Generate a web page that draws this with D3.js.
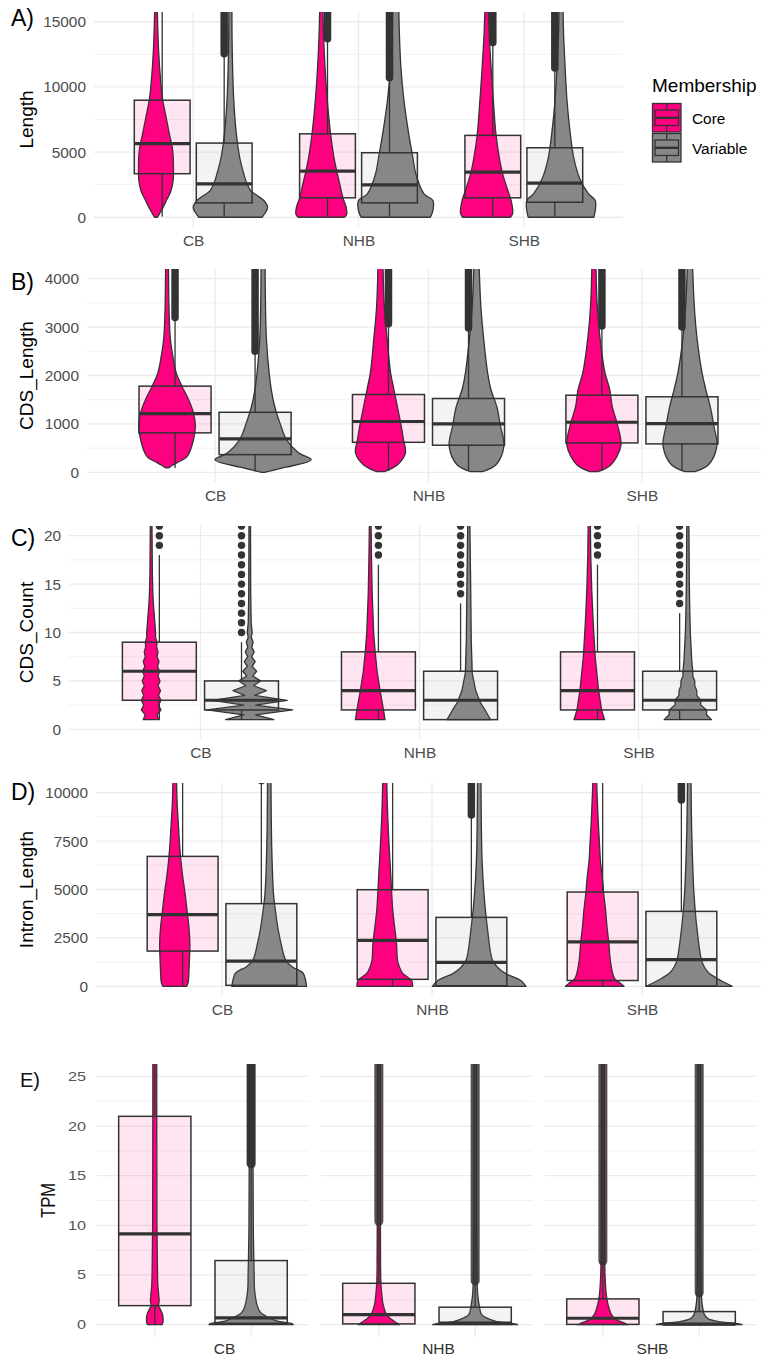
<!DOCTYPE html>
<html>
<head>
<meta charset="utf-8">
<script src="https://cdn.jsdelivr.net/npm/d3@7"></script>
<style>
  body { margin: 0; background: #fff; }
  svg { display: block; }
  text { font-family: "Liberation Sans", Arial, sans-serif; }
</style>
</head>
<body>
<svg id="canvas" width="761" height="1360"></svg>
<script>
const groups = ["CB", "NHB", "SHB"];
const members = ["Core", "Variable"];

// ---- A) Length ----
const lengthTicks = [0, 5000, 10000, 15000];
const lengthMinor = [2500, 7500, 12500];
// group, member, lower whisker, q1, median, q3, upper whisker
const lengthBoxes = [
  ["CB", "Core", 50, 3340, 5650, 8980, 17000],
  ["CB", "Variable", 30, 1100, 2560, 5690, 12400],
  ["NHB", "Core", 50, 1490, 3540, 6400, 13650],
  ["NHB", "Variable", 30, 1100, 2490, 4950, 10650],
  ["SHB", "Core", 50, 1490, 3460, 6280, 13350],
  ["SHB", "Variable", 30, 1150, 2620, 5330, 11400],
];
// dense outlier runs: group, member, from, to
const lengthOutliers = [
  ["CB", "Variable", 12550, 17000],
  ["NHB", "Core", 13700, 17000],
  ["NHB", "Variable", 10700, 17000],
  ["SHB", "Core", 13400, 17000],
  ["SHB", "Variable", 11450, 17000],
];
// violin outlines: [value, relative half width]
const lengthViolins = [
  ["CB", "Core", [[0, 0.04], [300, 0.1], [700, 0.18], [1280, 0.28], [2000, 0.4], [2800, 0.46], [3800, 0.47], [5100, 0.45], [6400, 0.36], [7700, 0.27], [9000, 0.18], [10300, 0.13], [12800, 0.07], [16500, 0.03]]],
  ["CB", "Variable", [[0, 0.85], [400, 0.95], [750, 1.0], [1280, 0.9], [1700, 0.7], [2050, 0.54], [2700, 0.43], [3340, 0.36], [4600, 0.25], [6400, 0.16], [9000, 0.09], [12800, 0.05], [16500, 0.04]]],
  ["NHB", "Core", [[0, 0.62], [200, 0.68], [750, 0.67], [1500, 0.58], [2500, 0.5], [3340, 0.43], [4600, 0.34], [6400, 0.25], [9000, 0.16], [11500, 0.1], [14000, 0.06], [16500, 0.04]]],
  ["NHB", "Variable", [[0, 0.93], [500, 1.0], [1280, 1.0], [1800, 0.76], [3340, 0.54], [4600, 0.46], [6400, 0.35], [9000, 0.22], [11500, 0.14], [14000, 0.1], [16500, 0.08]]],
  ["SHB", "Core", [[0, 0.64], [300, 0.7], [1280, 0.66], [2050, 0.57], [3340, 0.43], [4600, 0.34], [6400, 0.25], [9000, 0.18], [11500, 0.12], [14000, 0.07], [16500, 0.04]]],
  ["SHB", "Variable", [[0, 0.88], [500, 0.92], [1280, 0.92], [1800, 0.74], [3000, 0.5], [4600, 0.34], [6400, 0.25], [9000, 0.16], [11500, 0.11], [14000, 0.07], [16500, 0.05]]],
];

// ---- B) CDS_Length ----
const cdsLenTicks = [0, 1000, 2000, 3000, 4000];
const cdsLenMinor = [500, 1500, 2500, 3500];
const cdsLenBoxes = [
  ["CB", "Core", 90, 815, 1214, 1780, 3190],
  ["CB", "Variable", 20, 365, 690, 1240, 2480],
  ["NHB", "Core", 30, 620, 1050, 1607, 3055],
  ["NHB", "Variable", 30, 560, 1000, 1525, 2965],
  ["SHB", "Core", 30, 607, 1034, 1593, 3007],
  ["SHB", "Variable", 30, 587, 1007, 1560, 2987],
];
const cdsLenOutliers = [
  ["CB", "Core", 3200, 4600],
  ["CB", "Variable", 2500, 4600],
  ["NHB", "Core", 3070, 4600],
  ["NHB", "Variable", 2980, 4600],
  ["SHB", "Core", 3020, 4600],
  ["SHB", "Variable", 3000, 4600],
];
const cdsLenViolins = [
  ["CB", "Core", [[90, 0.03], [150, 0.12], [200, 0.21], [330, 0.42], [670, 0.55], [950, 0.59], [1230, 0.55], [1500, 0.45], [1780, 0.31], [2060, 0.19], [2400, 0.12], [2745, 0.07], [3430, 0.04], [4400, 0.03]]],
  ["CB", "Variable", [[0, 0.03], [100, 0.45], [260, 1.0], [410, 0.73], [670, 0.49], [1020, 0.35], [1365, 0.24], [1710, 0.17], [2060, 0.125], [2745, 0.07], [3430, 0.05], [4400, 0.04]]],
  ["NHB", "Core", [[15, 0.08], [150, 0.35], [400, 0.52], [670, 0.48], [1020, 0.42], [1365, 0.35], [1710, 0.28], [2060, 0.21], [2745, 0.14], [3430, 0.08], [4400, 0.05]]],
  ["NHB", "Variable", [[15, 0.12], [150, 0.4], [540, 0.57], [950, 0.5], [1365, 0.42], [1710, 0.3], [2060, 0.23], [2745, 0.15], [3430, 0.09], [4400, 0.05]]],
  ["SHB", "Core", [[15, 0.08], [150, 0.35], [540, 0.56], [950, 0.5], [1365, 0.38], [1710, 0.33], [2060, 0.23], [2745, 0.13], [3430, 0.07], [4400, 0.04]]],
  ["SHB", "Variable", [[15, 0.1], [150, 0.38], [540, 0.56], [950, 0.5], [1365, 0.42], [1710, 0.33], [2060, 0.25], [2745, 0.15], [3430, 0.09], [4400, 0.05]]],
];

// ---- C) CDS_Count ----
const cdsCountTicks = [0, 5, 10, 15, 20];
const cdsCountMinor = [2.5, 7.5, 12.5, 17.5];
const cdsCountBoxes = [
  ["CB", "Core", 1, 3, 6, 9, 18],
  ["CB", "Variable", 1, 2, 3, 5, 9],
  ["NHB", "Core", 1, 2, 4, 8, 17],
  ["NHB", "Variable", 1, 1, 3, 6, 13],
  ["SHB", "Core", 1, 2, 4, 8, 17],
  ["SHB", "Variable", 1, 2, 3, 6, 12],
];
// single outlier points
const cdsCountOutliers = [
  ["CB", "Core", [19, 20, 21]],
  ["CB", "Variable", [10, 11, 12, 13, 14, 15, 16, 17, 18, 19, 20, 21]],
  ["NHB", "Core", [18, 19, 20, 21]],
  ["NHB", "Variable", [14, 15, 16, 17, 18, 19, 20, 21]],
  ["SHB", "Core", [18, 19, 20, 21]],
  ["SHB", "Variable", [13, 14, 15, 16, 17, 18, 19, 20, 21]],
];
const cdsCountViolins = [
  ["CB", "Core", [[1, 0.16], [1.5, 0.12], [2, 0.2], [2.5, 0.15], [3, 0.2], [3.5, 0.15], [4, 0.19], [4.5, 0.14], [5, 0.18], [5.5, 0.14], [6, 0.17], [6.5, 0.13], [7, 0.16], [7.5, 0.12], [8, 0.14], [8.5, 0.11], [9, 0.12], [9.5, 0.09], [10, 0.09], [11, 0.075], [12, 0.06], [13, 0.045], [14, 0.035], [16, 0.025], [22, 0.015]]],
  ["CB", "Variable", [[1, 0.49], [1.5, 0.12], [2, 0.87], [2.5, 0.12], [3, 0.76], [3.5, 0.1], [4, 0.34], [4.5, 0.08], [5, 0.22], [5.5, 0.06], [6, 0.14], [6.5, 0.05], [7, 0.11], [7.5, 0.04], [8, 0.09], [8.5, 0.04], [9, 0.07], [9.5, 0.03], [10, 0.05], [11, 0.03], [14, 0.02], [22, 0.015]]],
  ["NHB", "Core", [[1, 0.3], [2, 0.27], [4, 0.2], [6, 0.14], [8, 0.1], [10, 0.07], [14, 0.04], [18, 0.025], [22, 0.015]]],
  ["NHB", "Variable", [[1, 0.44], [2, 0.33], [2.7, 0.24], [4, 0.14], [5.8, 0.07], [9.2, 0.05], [14, 0.04], [22, 0.02]]],
  ["SHB", "Core", [[1, 0.31], [2, 0.25], [4, 0.19], [7.5, 0.12], [11, 0.08], [14.4, 0.05], [18, 0.03], [22, 0.02]]],
  ["SHB", "Variable", [[1, 0.48], [1.5, 0.38], [2, 0.38], [2.5, 0.26], [3, 0.26], [3.5, 0.18], [4, 0.18], [4.5, 0.14], [5, 0.14], [5.5, 0.1], [6, 0.1], [7, 0.08], [8, 0.07], [10, 0.05], [12, 0.04], [15, 0.03], [22, 0.02]]],
];

// ---- D) Intron_Length ----
const intronTicks = [0, 2500, 5000, 7500, 10000];
const intronMinor = [1250, 3750, 6250, 8750];
const intronBoxes = [
  ["CB", "Core", 0, 1820, 3700, 6711, 14000],
  ["CB", "Variable", 0, 50, 1306, 4270, 10450],
  ["NHB", "Core", 0, 360, 2375, 4990, 12000],
  ["NHB", "Variable", 0, 30, 1240, 3560, 8830],
  ["SHB", "Core", 0, 300, 2300, 4870, 12000],
  ["SHB", "Variable", 0, 15, 1380, 3870, 9600],
];
const intronOutliers = [
  ["CB", "Variable", 10620, 10620],
  ["NHB", "Variable", 8850, 12000],
  ["SHB", "Variable", 9620, 12000],
];
const intronViolins = [
  ["CB", "Core", [[0, 0.25], [150, 0.28], [300, 0.29], [1340, 0.31], [2200, 0.32], [3060, 0.3], [3920, 0.26], [4780, 0.22], [5640, 0.17], [6500, 0.13], [7380, 0.1], [8220, 0.08], [9500, 0.05], [11000, 0.035]]],
  ["CB", "Variable", [[0, 0.79], [300, 0.77], [670, 0.72], [830, 0.63], [1000, 0.49], [1340, 0.35], [2200, 0.25], [3060, 0.18], [3920, 0.13], [4780, 0.09], [6500, 0.06], [8220, 0.045], [11000, 0.035]]],
  ["NHB", "Core", [[0, 0.59], [300, 0.57], [670, 0.38], [1000, 0.31], [1340, 0.27], [2200, 0.25], [3920, 0.17], [5640, 0.13], [7380, 0.09], [9000, 0.06], [11000, 0.04]]],
  ["NHB", "Variable", [[0, 0.99], [300, 0.88], [670, 0.55], [1000, 0.38], [1340, 0.28], [3060, 0.17], [4780, 0.1], [6500, 0.06], [8220, 0.045], [11000, 0.035]]],
  ["SHB", "Core", [[0, 0.62], [150, 0.55], [400, 0.42], [1340, 0.33], [2200, 0.3], [3060, 0.26], [3920, 0.23], [4780, 0.19], [5640, 0.16], [6500, 0.12], [7380, 0.1], [8220, 0.08], [9900, 0.05], [11000, 0.035]]],
  ["SHB", "Variable", [[0, 0.91], [300, 0.67], [670, 0.42], [1000, 0.32], [1340, 0.26], [3060, 0.16], [4780, 0.1], [6500, 0.07], [8220, 0.05], [11000, 0.035]]],
];

// ---- E) TPM (faceted by group) ----
const tpmTicks = [0, 5, 10, 15, 20, 25];
const tpmMinor = [2.5, 7.5, 12.5, 17.5, 22.5];
const tpmBoxes = [
  ["CB", "Core", 0, 1.91, 9.13, 20.98, 30],
  ["CB", "Variable", 0, 0.13, 0.67, 6.45, 16.0],
  ["NHB", "Core", 0, 0.07, 1.0, 4.16, 10.3],
  ["NHB", "Variable", 0, 0.02, 0.15, 1.75, 4.3],
  ["SHB", "Core", 0, 0.02, 0.64, 2.59, 6.3],
  ["SHB", "Variable", 0, 0.0, 0.05, 1.31, 3.1],
];
const tpmOutliers = [
  ["CB", "Variable", 16.2, 28],
  ["NHB", "Core", 10.4, 28],
  ["NHB", "Variable", 4.4, 28],
  ["SHB", "Core", 6.4, 28],
  ["SHB", "Variable", 3.2, 28],
];
const tpmViolins = [
  ["CB", "Core", [[0, 0.17], [0.3, 0.19], [1, 0.18], [1.6, 0.12], [1.9, 0.08], [2.3, 0.1], [3, 0.09], [4, 0.07], [6, 0.06], [10, 0.05], [28, 0.045]]],
  ["CB", "Variable", [[0, 0.98], [0.15, 0.9], [0.35, 0.6], [0.84, 0.35], [1.2, 0.22], [1.77, 0.15], [3.45, 0.08], [5, 0.07], [10, 0.05], [28, 0.04]]],
  ["NHB", "Core", [[0, 0.46], [0.2, 0.4], [0.5, 0.3], [1, 0.18], [2, 0.1], [3, 0.07], [4, 0.05], [6, 0.04], [28, 0.03]]],
  ["NHB", "Variable", [[0, 0.99], [0.15, 0.8], [0.3, 0.5], [0.7, 0.25], [1, 0.15], [2, 0.09], [3, 0.06], [5, 0.04], [28, 0.03]]],
  ["SHB", "Core", [[0, 0.56], [0.15, 0.5], [0.5, 0.3], [1, 0.2], [2, 0.12], [3, 0.08], [5, 0.05], [8, 0.04], [28, 0.03]]],
  ["SHB", "Variable", [[0, 1.0], [0.15, 0.8], [0.3, 0.45], [0.6, 0.2], [1, 0.12], [2, 0.07], [3, 0.05], [28, 0.03]]],
];

// ---- styling / layout ----
const fill = { Core: "#FF0080", Variable: "#878787" };
const ink = "#333333";
const gridColor = "#EBEBEB";
const plain = d3.format("d");

const panels = [
  { tag: "A)", title: "Length", ticks: lengthTicks, minor: lengthMinor, boxes: lengthBoxes, runs: lengthOutliers, violins: lengthViolins,
    x: [94, 623], y: [227, 12], domain: [-750, 15750], curve: d3.curveCatmullRom, tagY: 26 },
  { tag: "B)", title: "CDS_Length", ticks: cdsLenTicks, minor: cdsLenMinor, boxes: cdsLenBoxes, runs: cdsLenOutliers, violins: cdsLenViolins,
    x: [87, 770], y: [482, 269], domain: [-200, 4200], curve: d3.curveCatmullRom, tagY: 290 },
  { tag: "C)", title: "CDS_Count", ticks: cdsCountTicks, minor: cdsCountMinor, boxes: cdsCountBoxes, points: cdsCountOutliers, violins: cdsCountViolins,
    x: [69, 770], y: [739, 526], domain: [-1, 21], curve: d3.curveLinear, tagY: 546 },
  { tag: "D)", title: "Intron_Length", ticks: intronTicks, minor: intronMinor, boxes: intronBoxes, runs: intronOutliers, violins: intronViolins,
    x: [96, 768], y: [996, 783], domain: [-500, 10500], curve: d3.curveCatmullRom, tagY: 800 },
];

const svg = d3.select("#canvas");

function drawPanel(p, i) {
  const g = svg.append("g").attr("class", "panel");
  const x = d3.scalePoint().domain(groups).range(p.x).padding(0.6);
  const y = d3.scaleLinear().domain(p.domain).range(p.y);
  const step = x.step();
  const boxOff = d3.scalePoint().domain(members).range([-0.1875 * step, 0.1875 * step]);
  const vioOff = d3.scalePoint().domain(members).range([-0.225 * step, 0.225 * step]);
  const boxW = 0.3375 * step, halfW = 0.225 * step;

  // grid
  g.append("g").selectAll("line").data(p.minor).join("line")
    .attr("x1", p.x[0]).attr("x2", p.x[1]).attr("y1", d => y(d)).attr("y2", d => y(d))
    .attr("stroke", gridColor).attr("stroke-width", 0.7);
  g.append("g").selectAll("line").data(p.ticks).join("line")
    .attr("x1", p.x[0]).attr("x2", p.x[1]).attr("y1", d => y(d)).attr("y2", d => y(d))
    .attr("stroke", gridColor).attr("stroke-width", 1.3);
  g.append("g").selectAll("line").data(groups).join("line")
    .attr("x1", d => x(d)).attr("x2", d => x(d)).attr("y1", p.y[0]).attr("y2", p.y[1])
    .attr("stroke", gridColor).attr("stroke-width", 1.3);

  const clipId = "clip" + i;
  svg.append("clipPath").attr("id", clipId).append("rect")
    .attr("x", p.x[0]).attr("y", p.y[1]).attr("width", p.x[1] - p.x[0]).attr("height", p.y[0] - p.y[1]);
  const plot = g.append("g").attr("clip-path", `url(#${clipId})`);

  // violins
  const area = d3.area().curve(p.curve).y(d => y(d[0]));
  plot.append("g").selectAll("path").data(p.violins).join("path")
    .attr("d", d => {
      const cx = x(d[0]) + vioOff(d[1]);
      return area.x0(v => cx - v[1] * halfW).x1(v => cx + v[1] * halfW)(d[2]);
    })
    .attr("fill", d => fill[d[1]]).attr("stroke", ink).attr("stroke-width", 1.3)
    .attr("stroke-linejoin", "round");

  drawBoxes(plot, p.boxes, d => x(d[0]) + boxOff(d[1]), y, boxW);

  if (p.runs) {
    plot.append("g").selectAll("line").data(p.runs).join("line")
      .attr("x1", d => x(d[0]) + boxOff(d[1])).attr("x2", d => x(d[0]) + boxOff(d[1]))
      .attr("y1", d => y(d[2])).attr("y2", d => y(d[3]))
      .attr("stroke", ink).attr("stroke-width", 7.5).attr("stroke-linecap", "round");
  }
  if (p.points) {
    const pts = p.points.flatMap(d => d[2].map(v => [d[0], d[1], v]));
    plot.append("g").selectAll("circle").data(pts).join("circle")
      .attr("cx", d => x(d[0]) + boxOff(d[1])).attr("cy", d => y(d[2])).attr("r", 3.7)
      .attr("fill", ink);
  }

  // axes
  const ya = g.append("g").attr("transform", `translate(${p.x[0]},0)`)
    .call(d3.axisLeft(y).tickValues(p.ticks).tickFormat(plain).tickSize(0).tickPadding(8));
  ya.select(".domain").remove();
  ya.selectAll("text").attr("font-size", 15.4).attr("fill", "#4D4D4D").attr("font-family", "Liberation Sans, Arial, sans-serif");

  const xa = g.append("g").attr("transform", `translate(0,${p.y[0]})`)
    .call(d3.axisBottom(x).tickSize(0).tickPadding(8));
  xa.select(".domain").remove();
  xa.selectAll("text").attr("font-size", 15.4).attr("fill", "#4D4D4D").attr("font-family", "Liberation Sans, Arial, sans-serif");

  g.append("text").attr("transform", `translate(33,${(p.y[0] + p.y[1]) / 2}) rotate(-90)`)
    .attr("text-anchor", "middle").attr("font-size", 19).attr("fill", "#000").text(p.title);
  g.append("text").attr("x", 11).attr("y", p.tagY).attr("font-size", 23).attr("fill", "#000").text(p.tag);
}

function drawBoxes(sel, rows, cxOf, y, boxW) {
  const b = sel.append("g").selectAll("g").data(rows).join("g");
  b.append("line").attr("x1", cxOf).attr("x2", cxOf)
    .attr("y1", d => y(d[5])).attr("y2", d => y(d[6]))
    .attr("stroke", ink).attr("stroke-width", 1.3);
  b.append("line").attr("x1", cxOf).attr("x2", cxOf)
    .attr("y1", d => y(d[2])).attr("y2", d => y(d[3]))
    .attr("stroke", ink).attr("stroke-width", 1.3);
  b.append("rect")
    .attr("x", d => cxOf(d) - boxW / 2).attr("width", boxW)
    .attr("y", d => y(d[5])).attr("height", d => y(d[3]) - y(d[5]))
    .attr("fill", d => fill[d[1]]).attr("fill-opacity", 0.1)
    .attr("stroke", ink).attr("stroke-width", 1.5);
  b.append("line")
    .attr("x1", d => cxOf(d) - boxW / 2).attr("x2", d => cxOf(d) + boxW / 2)
    .attr("y1", d => y(d[4])).attr("y2", d => y(d[4]))
    .attr("stroke", ink).attr("stroke-width", 3.2);
}

panels.forEach(drawPanel);

// legend
const legend = svg.append("g").attr("transform", "translate(652,0)");
legend.append("text").attr("x", 0).attr("y", 92).attr("font-size", 19).attr("fill", "#000").text("Membership");
const key = legend.selectAll("g.key").data(members).join("g")
  .attr("transform", (d, i) => `translate(0,${103 + i * 30})`);
key.append("rect").attr("x", 0.5).attr("y", 0.5).attr("width", 28.5).attr("height", 28.5)
  .attr("fill", d => fill[d]).attr("stroke", ink).attr("stroke-width", 1.3);
key.append("rect").attr("x", 3).attr("y", 7).attr("width", 23.5).attr("height", 15.5)
  .attr("fill", d => fill[d]).attr("stroke", ink).attr("stroke-width", 1.3);
key.append("line").attr("x1", 3).attr("x2", 26.5).attr("y1", 14.8).attr("y2", 14.8)
  .attr("stroke", ink).attr("stroke-width", 2.4);
key.append("line").attr("x1", 14.75).attr("x2", 14.75).attr("y1", 0.5).attr("y2", 7).attr("stroke", ink).attr("stroke-width", 1.3);
key.append("line").attr("x1", 14.75).attr("x2", 14.75).attr("y1", 22.5).attr("y2", 29).attr("stroke", ink).attr("stroke-width", 1.3);
key.append("text").attr("x", 40).attr("y", 20.5).attr("font-size", 15.4).attr("fill", "#000").text(d => d);

// ---- E) faceted TPM panel ----
(function drawTPM() {
  const g = svg.append("g");
  const yr = [1337, 1064];
  const y = d3.scaleLinear().domain([-1.25, 26.25]).range(yr);
  const facet = d3.scaleBand().domain(groups).range([97, 757]).paddingInner(0.054);
  const efont = "DejaVu Sans, Verdana, sans-serif";

  groups.forEach((grp, i) => {
    const f0 = facet(grp), f1 = f0 + facet.bandwidth();
    const x = d3.scalePoint().domain(members).range([f0, f1]).padding(0.6);
    const step = x.step();
    const fg = g.append("g");
    fg.append("g").selectAll("line").data(tpmMinor).join("line")
      .attr("x1", f0).attr("x2", f1).attr("y1", d => y(d)).attr("y2", d => y(d))
      .attr("stroke", gridColor).attr("stroke-width", 0.7);
    fg.append("g").selectAll("line").data(tpmTicks).join("line")
      .attr("x1", f0).attr("x2", f1).attr("y1", d => y(d)).attr("y2", d => y(d))
      .attr("stroke", gridColor).attr("stroke-width", 1.3);
    fg.append("g").selectAll("line").data(members).join("line")
      .attr("x1", d => x(d)).attr("x2", d => x(d)).attr("y1", yr[0]).attr("y2", yr[1])
      .attr("stroke", gridColor).attr("stroke-width", 1.3);

    const clipId = "clipE" + i;
    svg.append("clipPath").attr("id", clipId).append("rect")
      .attr("x", f0).attr("y", yr[1]).attr("width", f1 - f0).attr("height", yr[0] - yr[1]);
    const plot = fg.append("g").attr("clip-path", `url(#${clipId})`);

    const halfW = 0.45 * step;
    const area = d3.area().curve(d3.curveCatmullRom).y(d => y(d[0]));
    plot.append("g").selectAll("path").data(tpmViolins.filter(d => d[0] === grp)).join("path")
      .attr("d", d => {
        const cx = x(d[1]);
        return area.x0(v => cx - v[1] * halfW).x1(v => cx + v[1] * halfW)(d[2]);
      })
      .attr("fill", d => fill[d[1]]).attr("stroke", ink).attr("stroke-width", 1.3);

    drawBoxes(plot, tpmBoxes.filter(d => d[0] === grp), d => x(d[1]), y, 0.75 * step);

    plot.append("g").selectAll("line").data(tpmOutliers.filter(d => d[0] === grp)).join("line")
      .attr("x1", d => x(d[1])).attr("x2", d => x(d[1]))
      .attr("y1", d => y(d[2])).attr("y2", d => y(d[3]))
      .attr("stroke", ink).attr("stroke-opacity", grp === "CB" ? 1 : 0.85)
      .attr("stroke-width", 9).attr("stroke-linecap", "round");
  });

  const ya = g.append("g").attr("transform", "translate(97,0)")
    .call(d3.axisLeft(y).tickValues(tpmTicks).tickSize(0).tickPadding(11));
  ya.select(".domain").remove();
  ya.selectAll("text").attr("font-size", 12.5).attr("fill", "#555").attr("font-family", efont)
    .attr("transform", "scale(1.3,1)").attr("x", -8.5);

  const labelX = d3.scalePoint().domain(groups).range([224, 652]);
  const xa = g.append("g").attr("transform", `translate(0,${yr[0]})`)
    .call(d3.axisBottom(labelX).tickSize(0).tickPadding(6));
  xa.select(".domain").remove();
  xa.selectAll("text").attr("font-size", 15.5).attr("fill", "#333").attr("font-family", efont);

  g.append("text").attr("transform", `translate(55,${(yr[0] + yr[1]) / 2}) rotate(-90)`)
    .attr("text-anchor", "middle").attr("font-size", 20).attr("textLength", 35).attr("lengthAdjust", "spacingAndGlyphs")
    .attr("fill", "#111").attr("font-family", efont).text("TPM");
  g.append("text").attr("x", 20).attr("y", 1087).attr("font-size", 20).attr("fill", "#111")
    .attr("font-family", efont).text("E)");
})();
</script>
</body>
</html>
